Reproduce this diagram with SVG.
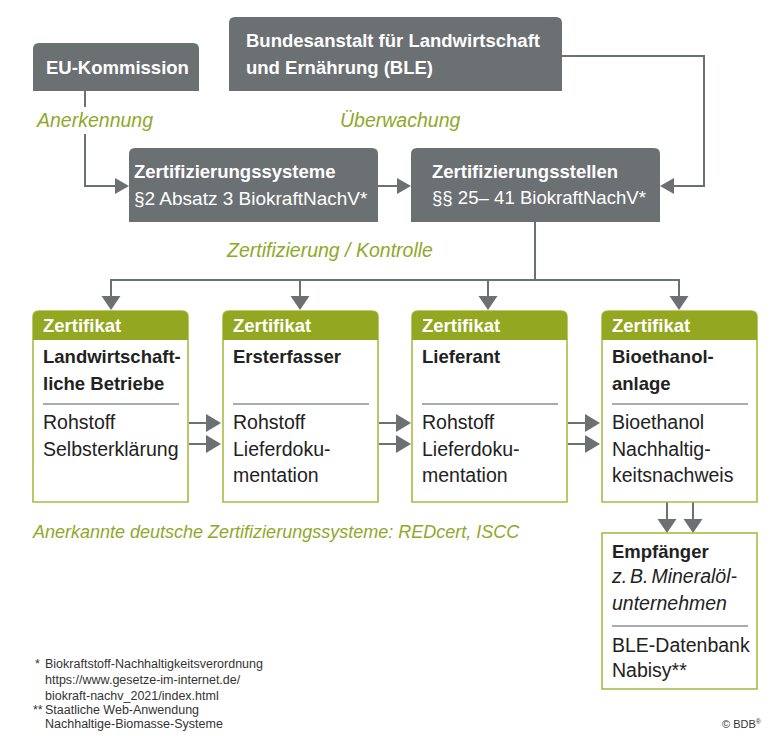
<svg xmlns="http://www.w3.org/2000/svg" width="780" height="751" viewBox="0 0 780 751">
<style>
  text { font-family: "Liberation Sans", Arial, sans-serif; }
  .grey { fill: #6b7073; }
  .wt { fill: #ffffff; }
  .b { font-weight: bold; font-size: 18.5px; }
  .r { font-size: 19px; }
  .lbl { fill: #8fa82a; font-style: italic; font-size: 19.5px; }
  .body { fill: #222222; font-size: 19.5px; }
  .title { fill: #222222; font-size: 18.5px; font-weight: bold; }
  .box { fill: #ffffff; stroke: #a9bb45; stroke-width: 1.6; }
  .hdr { fill: #94a721; }
  .div { stroke: #8c9092; stroke-width: 1.5; }
  .con { fill: none; stroke: #6b7073; stroke-width: 2; }
  .ah { fill: #6b7073; }
  .fn { fill: #333333; font-size: 12.5px; }
</style>

<!-- Connectors -->
<g id="connectors">
  <!-- EU -> Zertifizierungssysteme -->
  <line class="con" x1="85" y1="91" x2="85" y2="107"/>
  <polyline class="con" points="85,134 85,186 116,186"/>
  <polygon class="ah" points="129,186 115,178 115,194"/>
  <!-- Systeme -> Stellen -->
  <line class="con" x1="378" y1="186" x2="398" y2="186"/>
  <polygon class="ah" points="411,186 397,178 397,194"/>
  <!-- BLE -> Stellen -->
  <polyline class="con" points="562,56 704,56 704,186 673,186"/>
  <polygon class="ah" points="660,186 674,178 674,194"/>
  <!-- Stellen down to bus -->
  <line class="con" x1="535" y1="222" x2="535" y2="280"/>
  <polyline class="con" points="111,297 111,280 679,280 679,297"/>
  <line class="con" x1="300" y1="280" x2="300" y2="297"/>
  <line class="con" x1="488" y1="280" x2="488" y2="297"/>
  <polygon class="ah" points="111,310 101.5,296 120.5,296"/>
  <polygon class="ah" points="300,310 290.5,296 309.5,296"/>
  <polygon class="ah" points="488,310 478.5,296 497.5,296"/>
  <polygon class="ah" points="679,310 669.5,296 688.5,296"/>
  <!-- horizontal arrows between certificate boxes -->
  <g>
    <line class="con" x1="189" y1="423" x2="207" y2="423"/>
    <polygon class="ah" points="221,423 206,414 206,432"/>
    <line class="con" x1="189" y1="444" x2="207" y2="444"/>
    <polygon class="ah" points="221,444 206,435 206,453"/>
    <line class="con" x1="379" y1="423" x2="397" y2="423"/>
    <polygon class="ah" points="411,423 396,414 396,432"/>
    <line class="con" x1="379" y1="444" x2="397" y2="444"/>
    <polygon class="ah" points="411,444 396,435 396,453"/>
    <line class="con" x1="568" y1="423" x2="586" y2="423"/>
    <polygon class="ah" points="600,423 585,414 585,432"/>
    <line class="con" x1="568" y1="444" x2="586" y2="444"/>
    <polygon class="ah" points="600,444 585,435 585,453"/>
  </g>
  <!-- Bioethanolanlage -> Empfänger -->
  <line class="con" x1="667" y1="502" x2="667" y2="521"/>
  <line class="con" x1="693" y1="502" x2="693" y2="521"/>
  <polygon class="ah" points="667,533 657.5,519 676.5,519"/>
  <polygon class="ah" points="693,533 683.5,519 702.5,519"/>
</g>

<!-- Grey nodes -->
<g id="eu-kommission">
  <path class="grey" d="M33,91 V49 Q33,43 39,43 H193 Q199,43 199,49 V91 Z"/>
  <text class="wt b" x="46" y="74">EU-Kommission</text>
</g>
<g id="ble">
  <path class="grey" d="M229,91 V23 Q229,17 235,17 H556 Q562,17 562,23 V91 Z"/>
  <text class="wt b" x="246" y="47">Bundesanstalt für Landwirtschaft</text>
  <text class="wt b" x="246" y="74">und Ernährung (BLE)</text>
</g>
<g id="zertifizierungssysteme">
  <path class="grey" d="M129,222 V154 Q129,148 135,148 H372 Q378,148 378,154 V222 Z"/>
  <text class="wt b" x="134" y="178">Zertifizierungssysteme</text>
  <text class="wt r" x="134" y="205">§2 Absatz 3 BiokraftNachV*</text>
</g>
<g id="zertifizierungsstellen">
  <path class="grey" d="M411,222 V154 Q411,148 417,148 H654 Q660,148 660,154 V222 Z"/>
  <text class="wt b" x="432" y="178">Zertifizierungsstellen</text>
  <text class="wt r" x="432" y="204" style="font-size:18.6px">§§ 25– 41 BiokraftNachV*</text>
</g>

<!-- Labels -->
<g id="labels">
  <text class="lbl" x="37" y="127">Anerkennung</text>
  <text class="lbl" x="340" y="127">Überwachung</text>
  <text class="lbl" x="227" y="257">Zertifizierung / Kontrolle</text>
  <text class="lbl" x="33" y="538" style="font-size:18px">Anerkannte deutsche Zertifizierungssysteme: REDcert, ISCC</text>
</g>

<!-- Certificate nodes -->
<g id="landwirtschaftliche-betriebe">
  <path class="box" d="M33,502 V317 Q33,311 39,311 H182 Q188,311 188,317 V502 Z"/>
  <path class="hdr" d="M33,340 V317 Q33,311 39,311 H182 Q188,311 188,317 V340 Z"/>
  <text class="wt b" x="43" y="332">Zertifikat</text>
  <text class="title" x="43" y="363">Landwirtschaft-</text>
  <text class="title" x="43" y="390">liche Betriebe</text>
  <line class="div" x1="43" y1="404" x2="179" y2="404"/>
  <text class="body" x="43" y="429">Rohstoff</text>
  <text class="body" x="43" y="456">Selbsterklärung</text>
</g>
<g id="ersterfasser">
  <path class="box" d="M223,502 V317 Q223,311 229,311 H372 Q378,311 378,317 V502 Z"/>
  <path class="hdr" d="M223,340 V317 Q223,311 229,311 H372 Q378,311 378,317 V340 Z"/>
  <text class="wt b" x="233" y="332">Zertifikat</text>
  <text class="title" x="233" y="363">Ersterfasser</text>
  <line class="div" x1="233" y1="404" x2="369" y2="404"/>
  <text class="body" x="233" y="429">Rohstoff</text>
  <text class="body" x="233" y="456">Lieferdoku-</text>
  <text class="body" x="233" y="482">mentation</text>
</g>
<g id="lieferant">
  <path class="box" d="M412,502 V317 Q412,311 418,311 H561 Q567,311 567,317 V502 Z"/>
  <path class="hdr" d="M412,340 V317 Q412,311 418,311 H561 Q567,311 567,317 V340 Z"/>
  <text class="wt b" x="422" y="332">Zertifikat</text>
  <text class="title" x="422" y="363">Lieferant</text>
  <line class="div" x1="422" y1="404" x2="558" y2="404"/>
  <text class="body" x="422" y="429">Rohstoff</text>
  <text class="body" x="422" y="456">Lieferdoku-</text>
  <text class="body" x="422" y="482">mentation</text>
</g>
<g id="bioethanolanlage">
  <path class="box" d="M602,502 V317 Q602,311 608,311 H751 Q757,311 757,317 V502 Z"/>
  <path class="hdr" d="M602,340 V317 Q602,311 608,311 H751 Q757,311 757,317 V340 Z"/>
  <text class="wt b" x="612" y="332">Zertifikat</text>
  <text class="title" x="612" y="363">Bioethanol-</text>
  <text class="title" x="612" y="390">anlage</text>
  <line class="div" x1="612" y1="404" x2="748" y2="404"/>
  <text class="body" x="612" y="429">Bioethanol</text>
  <text class="body" x="612" y="456">Nachhaltig-</text>
  <text class="body" x="612" y="482">keitsnachweis</text>
</g>
<g id="empfaenger">
  <rect class="box" x="602" y="533" width="155" height="156"/>
  <text class="title" x="612" y="558">Empfänger</text>
  <text class="body" x="612" y="583" style="font-style:italic;word-spacing:-2.5px">z. B. Mineralöl-</text>
  <text class="body" x="612" y="610" style="font-style:italic">unternehmen</text>
  <line class="div" x1="612" y1="626" x2="748" y2="626"/>
  <text class="body" x="612" y="652">BLE-Datenbank</text>
  <text class="body" x="612" y="677">Nabisy**</text>
</g>

<!-- Footnotes -->
<g id="footnotes">
  <text class="fn" x="35" y="668">*</text>
  <text class="fn" x="45" y="668">Biokraftstoff-Nachhaltigkeitsverordnung</text>
  <text class="fn" x="45" y="684">https://www.gesetze-im-internet.de/</text>
  <text class="fn" x="45" y="700">biokraft-nachv_2021/index.html</text>
  <text class="fn" x="33" y="714">**</text>
  <text class="fn" x="45" y="714">Staatliche Web-Anwendung</text>
  <text class="fn" x="45" y="728">Nachhaltige-Biomasse-Systeme</text>
  <text class="fn" x="722" y="728" style="font-size:11px">© BDB<tspan font-size="7" dy="-4">®</tspan></text>
</g>
</svg>
